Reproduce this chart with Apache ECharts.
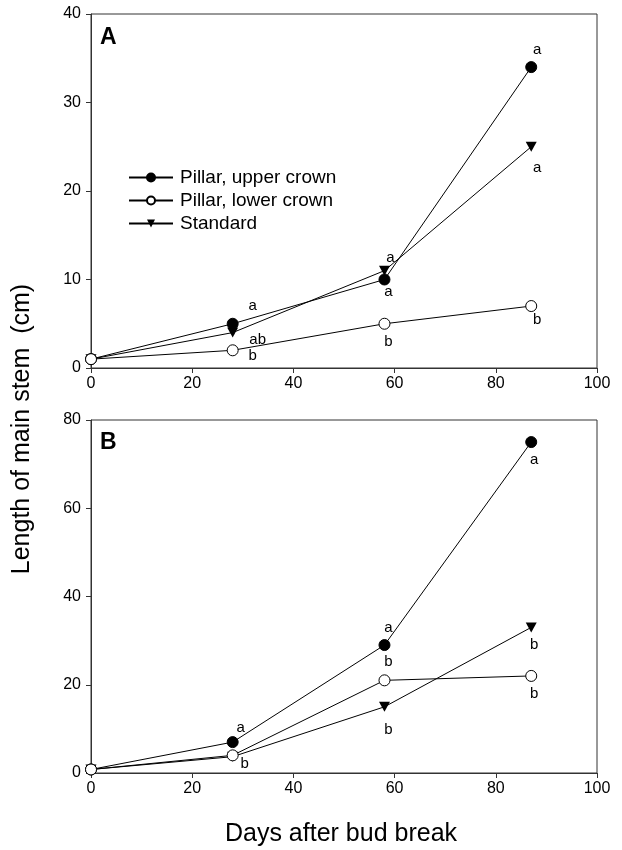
<!DOCTYPE html>
<html>
<head>
<meta charset="utf-8">
<script src="https://cdn.jsdelivr.net/npm/echarts@6/dist/echarts.min.js"></script>
<style>
  html, body { margin: 0; padding: 0; background: #fff; }
  #chart { width: 622px; height: 850px; }
</style>
</head>
<body>
<div id="chart"></div>
<script>
const days = [0, 28, 58, 87];

// panel A
const upperA = [1, 5, 10, 34];
const lowerA = [1, 2, 5, 7];
const standardA = [1, 4, 11, 25];
const upperALetters = ['', 'a', 'a', 'a'];
const lowerALetters = ['', 'b', 'b', 'b'];
const standardALetters = ['', 'ab', 'a', 'a'];

// panel B
const upperB = [0.8, 7, 29, 75];
const lowerB = [0.8, 4, 21, 22];
const standardB = [0.8, 3.7, 15, 33];
const upperBLetters = ['', 'a', 'a', 'a'];
const lowerBLetters = ['', 'b', 'b', 'b'];
const standardBLetters = ['', '', 'b', 'b'];

const seriesNames = ['Pillar, upper crown', 'Pillar, lower crown', 'Standard'];
const yTicksA = { min: 0, max: 40, interval: 10 };
const yTicksB = { min: 0, max: 80, interval: 20 };

const chart = echarts.init(document.getElementById('chart'));

const FONT = 'Liberation Sans, Arial, sans-serif';
const AXIS_COLOR = '#333';

// where each significance letter sits relative to its point (px)
const letterOffsets = {
  upperA: [null, [20, -18], [4, 12], [6, -17]],
  lowerA: [null, [20, 6], [4, 18], [6, 14]],
  standardA: [null, [25, 7], [6, -13], [6, 21]],
  upperB: [null, [8, -14], [4, -17], [3, 18]],
  lowerB: [null, [12, 9], [4, -18], [3, 18]],
  standardB: [null, [12, 9], [4, 23], [3, 17]]
};

const markerStyles = [
  { symbol: 'circle', symbolRotate: 0, size: 11, itemStyle: { color: '#000', borderColor: '#000', borderWidth: 1 } },
  { symbol: 'circle', symbolRotate: 0, size: 11, itemStyle: { color: '#fff', borderColor: '#000', borderWidth: 1 } },
  { symbol: 'triangle', symbolRotate: 180, size: [11, 10], itemStyle: { color: '#000', borderColor: '#000', borderWidth: 0 } }
];

function makeSeries(kind, grid, values, letters, key) {
  const offs = letterOffsets[key];
  const data = values.map((v, i) => {
    const item = { value: [days[i], v] };
    if (letters[i]) {
      item.label = {
        show: true,
        formatter: letters[i],
        position: 'inside',
        offset: offs[i],
        color: '#000',
        fontFamily: FONT,
        fontSize: 15
      };
    }
    return item;
  });
  const m = markerStyles[kind];
  return {
    name: seriesNames[kind],
    type: 'line',
    xAxisIndex: grid,
    yAxisIndex: grid,
    data,
    symbol: m.symbol,
    symbolRotate: m.symbolRotate,
    symbolSize: m.size,
    showAllSymbol: true,
    itemStyle: m.itemStyle,
    lineStyle: { color: '#000', width: 1 },
    label: { show: false },
    emphasis: { disabled: true },
    animation: false,
    z: kind === 1 ? 3 : 2
  };
}

function xAxis(grid) {
  return {
    type: 'value',
    gridIndex: grid,
    min: 0,
    max: 100,
    interval: 20,
    axisLine: { onZero: false, lineStyle: { color: AXIS_COLOR, width: 1 } },
    axisTick: { show: true, length: 5, lineStyle: { color: AXIS_COLOR } },
    axisLabel: { margin: 8, color: '#000', fontSize: 16, fontFamily: FONT },
    splitLine: { show: false }
  };
}

function yAxis(grid, t) {
  return {
    type: 'value',
    gridIndex: grid,
    min: t.min,
    max: t.max,
    interval: t.interval,
    axisLine: { show: true, onZero: false, lineStyle: { color: AXIS_COLOR, width: 1 } },
    axisTick: { show: true, length: 5, lineStyle: { color: AXIS_COLOR } },
    axisLabel: { margin: 10, color: '#000', fontSize: 16, fontFamily: FONT },
    splitLine: { show: false }
  };
}

const option = {
  backgroundColor: '#fff',
  animation: false,
  grid: [
    { left: 91, top: 14, width: 506, height: 354, show: true, borderColor: AXIS_COLOR, borderWidth: 1 },
    { left: 91, top: 420, width: 506, height: 353, show: true, borderColor: AXIS_COLOR, borderWidth: 1 }
  ],
  xAxis: [xAxis(0), xAxis(1)],
  yAxis: [yAxis(0, yTicksA), yAxis(1, yTicksB)],
  legend: {
    data: seriesNames,
    orient: 'vertical',
    left: 123,
    top: 163,
    itemWidth: 44,
    itemHeight: 10,
    itemGap: 4,
    textStyle: { fontSize: 19, fontFamily: FONT, color: '#000', padding: [0, 0, 0, 2] },
    selectedMode: false
  },
  graphic: [
    {
      type: 'text',
      left: 100, top: 26,
      style: { text: 'A', font: 'bold 23px ' + FONT, fill: '#000' }
    },
    {
      type: 'text',
      left: 100, top: 431,
      style: { text: 'B', font: 'bold 23px ' + FONT, fill: '#000' }
    },
    {
      type: 'text',
      x: 22, y: 429,
      rotation: Math.PI / 2,
      style: {
        text: 'Length of main stem  (cm)',
        font: '25px ' + FONT,
        fill: '#000',
        align: 'center',
        verticalAlign: 'middle'
      }
    },
    {
      type: 'text',
      x: 341, y: 834,
      style: {
        text: 'Days after bud break',
        font: '25px ' + FONT,
        fill: '#000',
        align: 'center',
        verticalAlign: 'middle'
      }
    }
  ],
  series: [
    makeSeries(0, 0, upperA, upperALetters, 'upperA'),
    makeSeries(1, 0, lowerA, lowerALetters, 'lowerA'),
    makeSeries(2, 0, standardA, standardALetters, 'standardA'),
    makeSeries(0, 1, upperB, upperBLetters, 'upperB'),
    makeSeries(1, 1, lowerB, lowerBLetters, 'lowerB'),
    makeSeries(2, 1, standardB, standardBLetters, 'standardB')
  ]
};

chart.setOption(option);
</script>
</body>
</html>
